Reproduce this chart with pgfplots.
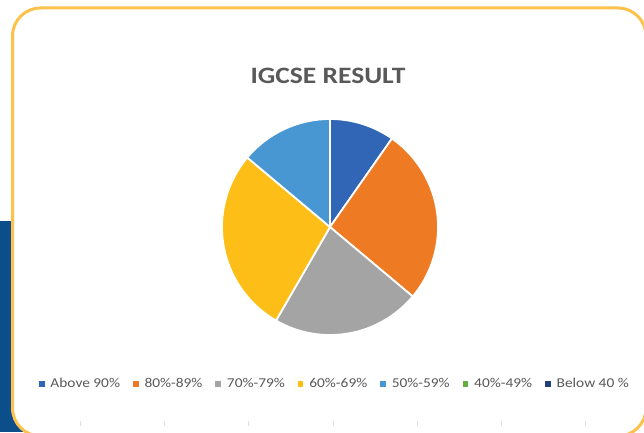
\documentclass[border=0pt]{standalone}
\usepackage{pgfplots}
\pgfplotsset{compat=1.18}
\usepackage{fontspec}
\setmainfont{Carlito}[FakeStretch=1.14]
\newfontfamily\titlefont{Carlito}[FakeStretch=1.17]
\definecolor{c1}{HTML}{3166B6}
\definecolor{c2}{HTML}{EE7A24}
\definecolor{c3}{HTML}{A4A4A4}
\definecolor{c4}{HTML}{FDBE17}
\definecolor{c5}{HTML}{4897D3}
\definecolor{c6}{HTML}{62AE3E}
\definecolor{c7}{HTML}{213F7C}
\definecolor{txt}{HTML}{595959}
\definecolor{frame}{HTML}{FDC24C}
\definecolor{navy}{HTML}{0B4E8A}
\begin{document}
\begin{tikzpicture}[x=1bp,y=1bp]
\useasboundingbox (0,0) rectangle (644,432);
\fill[white] (0,0) rectangle (644,432);
\fill[navy] (0,0) rectangle (60,211);
\draw[frame, line width=3bp, fill=white, rounded corners=28bp] (12.5,-4) rectangle (646,424);
\foreach \t in {80,164,248,333,417,501,585} \draw[black!12, line width=0.8bp] (\t,6) -- (\t,11);
\node[anchor=base, text=txt, font=\titlefont\bfseries\fontsize{23.5bp}{27bp}\selectfont, inner sep=0pt] at (328,349) {IGCSE RESULT};
\begin{axis}[at={(330bp,205bp)}, anchor=center, scale only axis,
  width=216bp, height=216bp, xmin=-1, xmax=1, ymin=-1, ymax=1,
  hide axis, clip=false,
  legend columns=7,
  legend style={draw=none, fill=none, at={(0.518,-0.225)}, anchor=center,
    font=\fontsize{13.5bp}{15bp}\selectfont, text=txt,
    nodes={inner sep=0pt},
    /tikz/every odd column/.append style={column sep=6.5bp},
    /tikz/every even column/.append style={column sep=13bp}},
  legend cell align=left]
\def\cum{0}
\foreach \v/\c in {7/c1,19/c2,16/c3,20/c4,10/c5,0/c6,0/c7}{
  \pgfmathsetmacro{\a}{90-5*\cum}
  \pgfmathsetmacro{\b}{90-5*(\cum+\v)}
  \ifdim\v pt>0pt
  \edef\tmp{\noexpand\fill[\c, draw=white, line width=1.8bp, line join=round] (axis cs:0,0) -- (axis cs:{cos(\a)},{sin(\a)}) arc[start angle=\a, end angle=\b, radius=108bp] -- cycle;}
  \tmp
  \fi
  \pgfmathsetmacro{\newcum}{\cum+\v}
  \xdef\cum{\newcum}
}
\addlegendimage{legend image code/.code={\fill[c1] (0bp,-2.1bp) rectangle (4.6bp,2.5bp);}}
\addlegendentry{Above 90\%}
\addlegendimage{legend image code/.code={\fill[c2] (0bp,-2.1bp) rectangle (4.6bp,2.5bp);}}
\addlegendentry{80\%-89\%}
\addlegendimage{legend image code/.code={\fill[c3] (0bp,-2.1bp) rectangle (4.6bp,2.5bp);}}
\addlegendentry{70\%-79\%}
\addlegendimage{legend image code/.code={\fill[c4] (0bp,-2.1bp) rectangle (4.6bp,2.5bp);}}
\addlegendentry{60\%-69\%}
\addlegendimage{legend image code/.code={\fill[c5] (0bp,-2.1bp) rectangle (4.6bp,2.5bp);}}
\addlegendentry{50\%-59\%}
\addlegendimage{legend image code/.code={\fill[c6] (0bp,-2.1bp) rectangle (4.6bp,2.5bp);}}
\addlegendentry{40\%-49\%}
\addlegendimage{legend image code/.code={\fill[c7] (0bp,-2.1bp) rectangle (4.6bp,2.5bp);}}
\addlegendentry{Below 40 \%}
\end{axis}
\end{tikzpicture}
\end{document}
